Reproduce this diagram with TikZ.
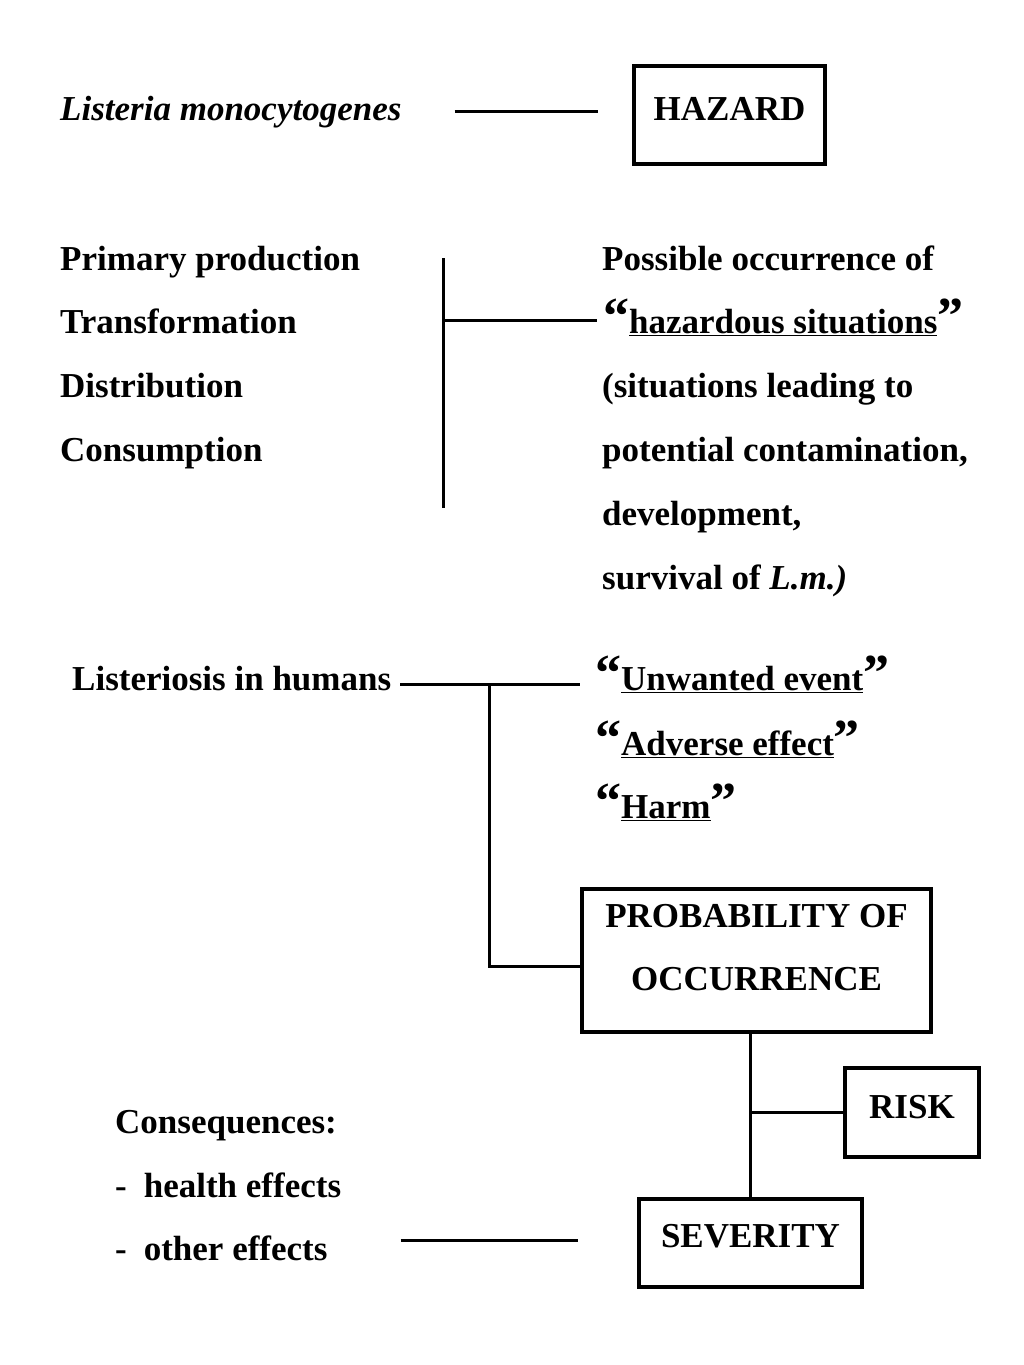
\documentclass[tikz,border=0pt]{standalone}
\usepackage{fontspec}
\setmainfont{Liberation Serif}
\tikzstyle{tx}=[anchor=base west, inner sep=0pt, font=\fontsize{35}{63}\selectfont\bfseries]
\tikzstyle{bx}=[draw, line width=4pt, inner sep=0pt, font=\fontsize{35}{63}\selectfont\bfseries]
\tikzstyle{ln}=[line width=3pt]
\newcommand{\qword}[1]{{\fontsize{52}{52}\selectfont “}\underline{#1}{\fontsize{52}{52}\selectfont ”}}
\begin{document}
\begin{tikzpicture}[x=1pt,y=-1pt]
\useasboundingbox (0,0) rectangle (1024,1365);

% hazard
\node[tx] (lis) at (60,120) {\itshape Listeria monocytogenes};
\node[bx, minimum width=191pt, minimum height=98pt, text depth=12.5pt] (haz) at (729.5,115) {HAZARD};
\coordinate (lise) at ([xshift=53pt]lis.east);
\coordinate (hazw) at ([xshift=-34pt]haz.west);
\draw[ln] (lise) -- (hazw |- lise);

% food chain
\node[tx] (pp) at (60,270) {Primary production};
\node[tx] (tr) at (60,333) {Transformation};
\node[tx] (di) at (60,397) {Distribution};
\node[tx] (co) at (60,461) {Consumption};
\coordinate (brt) at (443,258);
\coordinate (brb) at (443,508);
\coordinate (brm) at (443,320);
\draw[ln] (brt) -- (brb);

\node[tx] (po) at (602,270) {Possible occurrence of};
\node[tx] (hs) at (603,333) {\qword{hazardous situations}};
\node[tx] (s1) at (602,397) {(situations leading to};
\node[tx] (s2) at (602,461) {potential contamination,};
\node[tx] (s3) at (602,525) {development,};
\node[tx] (s4) at (602,589) {survival of \textit{L.m.)}};
\coordinate (hsw) at ([xshift=-6pt]hs.west);
\draw[ln] (brm) -- (brm -| hsw);

% listeriosis
\node[tx] (lh) at (72,690) {Listeriosis in humans};
\node[tx] (ue) at (595,690) {\qword{Unwanted event}};
\node[tx] (ae) at (595,755) {\qword{Adverse effect}};
\node[tx] (hm) at (595,818) {\qword{Harm}};
\node[bx, minimum width=349pt, minimum height=143pt, align=center, text depth=26.5pt] (pr) at (756.5,960.5) {PROBABILITY OF\\OCCURRENCE};
\coordinate (jn) at (489,684);
\coordinate (lhe) at ([xshift=9pt]lh.east);
\coordinate (uew) at ([xshift=-15pt]ue.west);
\draw[ln] (lhe |- jn) -- (uew |- jn);
\draw[ln] (jn) |- ([yshift=-5.5pt]pr.west);

% risk
\node[bx, minimum width=223pt, minimum height=88pt, text depth=14.5pt] (sv) at (750.5,1243) {SEVERITY};
\node[bx, minimum width=134pt, minimum height=89pt, text depth=11.5pt] (rk) at (912,1112.5) {RISK};
\draw[ln] (pr.south -| sv.north) -- (sv.north);
\draw[ln] (rk.west) -- (rk.west -| sv.north);

% consequences
\node[tx] (cq) at (115,1133) {Consequences:};
\node[tx] (he) at (115,1197) {-\hspace{17pt}health effects};
\node[tx] (oe) at (115,1260) {-\hspace{17pt}other effects};
\coordinate (oee) at ([xshift=73pt]oe.east);
\coordinate (svw) at ([xshift=-59pt,yshift=3pt]sv.west);
\draw[ln] (oee |- svw) -- (svw);

\end{tikzpicture}
\end{document}
